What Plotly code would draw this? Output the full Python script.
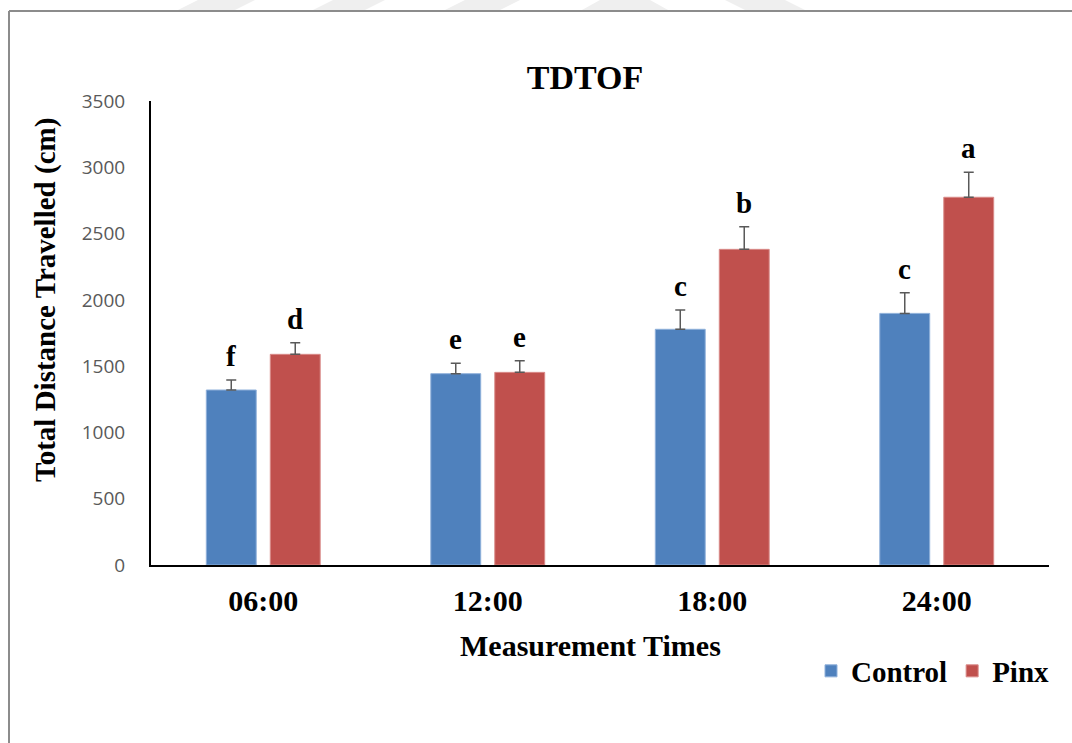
import plotly.graph_objects as go

# Data
times = ["06:00", "12:00", "18:00", "24:00"]
control = [1320, 1443, 1778, 1898]
control_err = [75, 78, 145, 156]
pinx = [1589, 1453, 2381, 2774]
pinx_err = [88, 88, 171, 188]
control_letters = ["f", "e", "c", "c"]
pinx_letters = ["d", "e", "b", "a"]
y_ticks = [0, 500, 1000, 1500, 2000, 2500, 3000, 3500]

W, H = 1072, 743
BLUE = "#4F81BD"
RED = "#C0504D"
SERIF = "Liberation Serif"


def px(x):
    return x / W


def py(y):
    return 1 - y / H


fig = go.Figure()

for name, vals, errs, color, edge in [
    ("Control", control, control_err, BLUE, "#8FB0DA"),
    ("Pinx", pinx, pinx_err, RED, "#D98A88"),
]:
    fig.add_trace(go.Bar(
        name=name,
        x=times,
        y=vals,
        marker=dict(color=color, line=dict(color=edge, width=1)),
        error_y=dict(type="data", array=errs, arrayminus=[0] * len(errs),
                     symmetric=False, color="#595959", thickness=1.5, width=5),
    ))

# Significance letters above each error bar
annotations = []
for vals, errs, letters, shift in [
    (control, control_err, control_letters, -32),
    (pinx, pinx_err, pinx_letters, 32),
]:
    for t, v, e, lab in zip(times, vals, errs, letters):
        annotations.append(dict(
            x=t, y=v + e, xref="x", yref="y", text=lab, showarrow=False,
            xshift=shift, yshift=6, yanchor="bottom",
            font=dict(family=SERIF, size=29, color="black", weight="bold"),
        ))

# Axis titles
annotations.append(dict(
    x=px(45), y=py(300), xref="paper", yref="paper",
    xanchor="center", yanchor="middle",
    text="Total Distance Travelled (cm)", showarrow=False, textangle=-90,
    font=dict(family=SERIF, size=29, color="black", weight="bold"),
))
annotations.append(dict(
    x=px(590), y=py(645), xref="paper", yref="paper",
    xanchor="center", yanchor="middle",
    text="Measurement Times", showarrow=False,
    font=dict(family=SERIF, size=30, color="black", weight="bold"),
))

# Outer frame and faint background banner
shapes = [
    dict(type="line", xref="paper", yref="paper", x0=px(9), x1=px(9),
         y0=py(11), y1=0, line=dict(color="#8C8C8C", width=2)),
    dict(type="line", xref="paper", yref="paper", x0=px(9), x1=1,
         y0=py(11), y1=py(11), line=dict(color="#8C8C8C", width=2)),
]
banner = [
    [(178, 10), (235, 10), (255, 0), (198, 0)],
    [(313, 10), (365, 10), (385, 0), (333, 0)],
    [(445, 10), (500, 10), (520, 0), (465, 0)],
    [(582, 10), (668, 10), (650, 0), (600, 0)],
    [(745, 10), (805, 10), (785, 0), (725, 0)],
]
for poly in banner:
    path = "M " + " L ".join(f"{px(a):.5f},{py(b):.5f}" for a, b in poly) + " Z"
    shapes.append(dict(type="path", xref="paper", yref="paper", path=path,
                       fillcolor="#EFEFEF", line=dict(width=0), layer="below"))

fig.update_layout(
    width=W, height=H,
    margin=dict(l=0, r=0, t=0, b=0, autoexpand=False),
    paper_bgcolor="white", plot_bgcolor="white",
    barmode="group", bargap=0.43, bargroupgap=0.22,
    title=dict(text="TDTOF", x=px(585), y=py(77), xanchor="center",
               yanchor="middle", xref="paper", yref="paper",
               font=dict(family=SERIF, size=34, color="black", weight="bold")),
    xaxis=dict(domain=[px(151), px(1049)], showline=True, linecolor="black",
               linewidth=2, ticks="", ticklabelstandoff=8, automargin=False,
               tickfont=dict(family=SERIF, size=30, color="black", weight="bold"),
               showgrid=False, zeroline=False),
    yaxis=dict(domain=[py(565), py(101)], range=[0, 3500], tickvals=y_ticks,
               showline=True, linecolor="black", linewidth=2, ticks="",
               ticklabelstandoff=20, showgrid=False, zeroline=False,
               automargin=False,
               tickfont=dict(family="Open Sans", size=19, color="#595959")),
    legend=dict(orientation="h", x=px(1055), xanchor="right", y=py(671),
                yanchor="middle", bgcolor="rgba(0,0,0,0)",
                font=dict(family=SERIF, size=29, color="black", weight="bold"),
                itemwidth=30, tracegroupgap=0),
    annotations=annotations,
    shapes=shapes,
)

fig.write_html("out.html")
